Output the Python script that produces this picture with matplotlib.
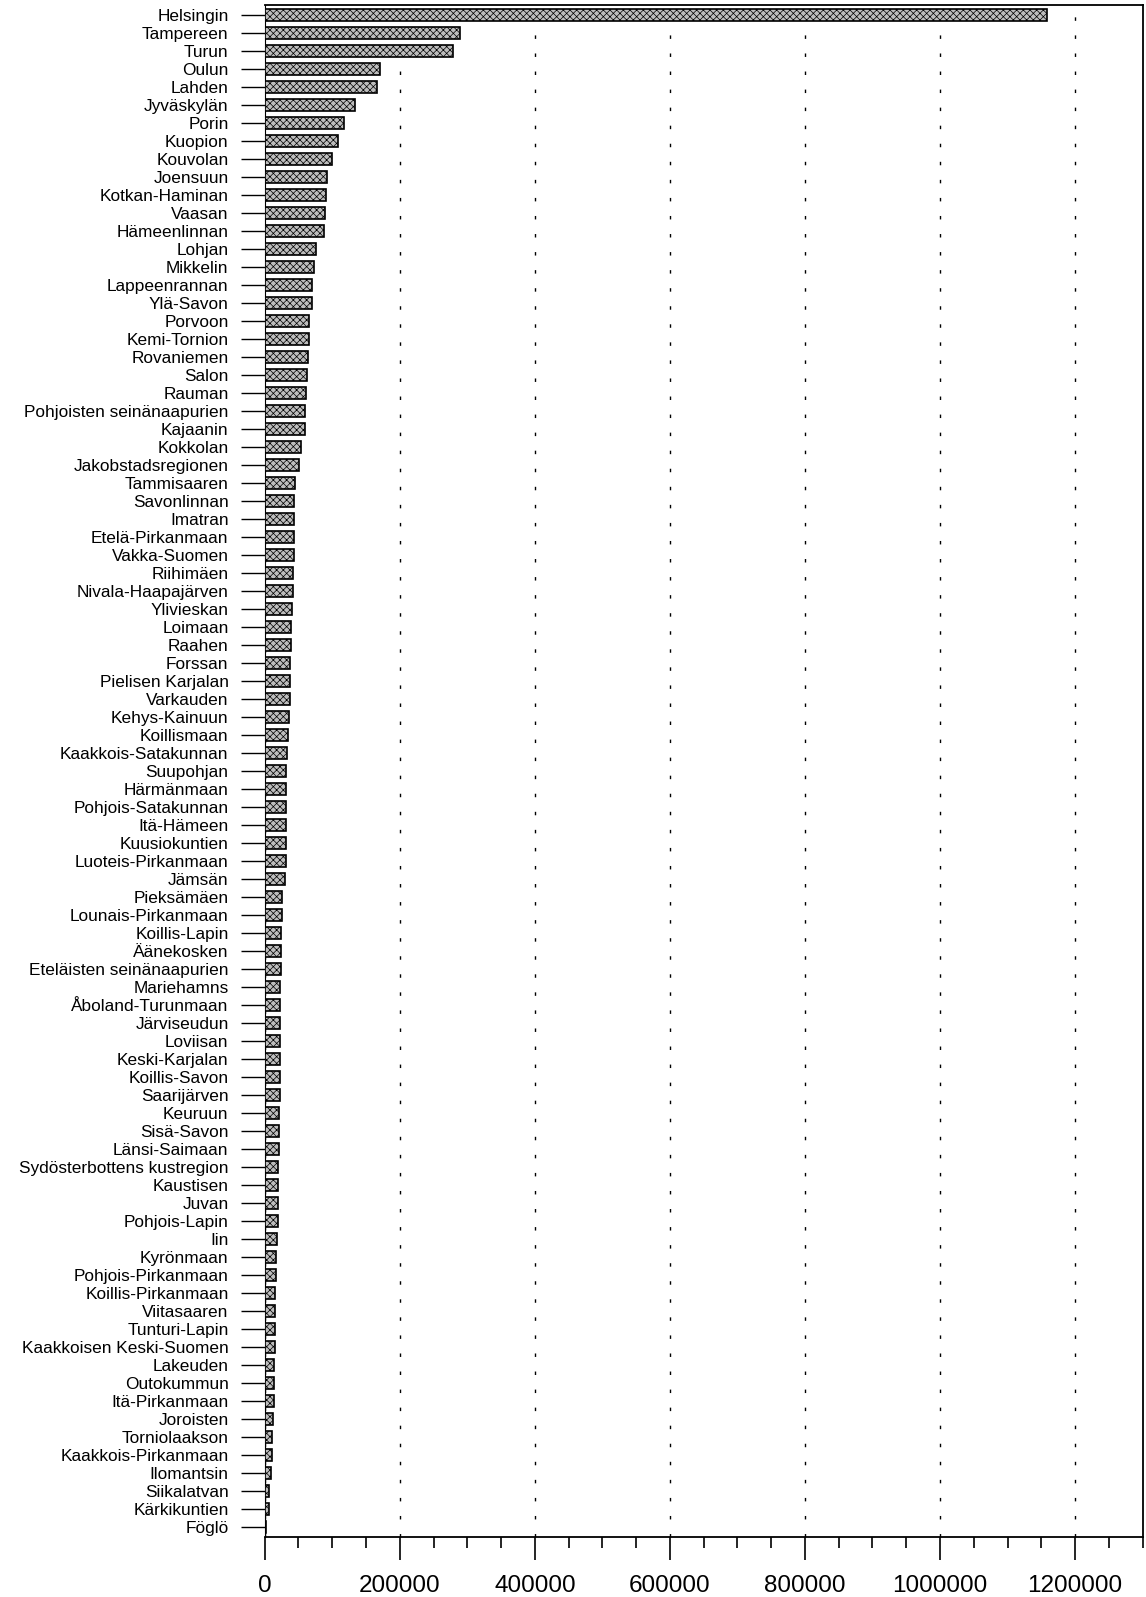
import numpy as np
import matplotlib
matplotlib.use('Agg')
import matplotlib.pyplot as plt
from matplotlib.ticker import MultipleLocator

plt.rcParams['font.family'] = ['Liberation Sans', 'DejaVu Sans']
plt.rcParams['hatch.linewidth'] = 0.5

# seutukunnat (ylhäältä alas)
regions = [
    "Helsingin", "Tampereen", "Turun", "Oulun", "Lahden", "Jyväskylän", "Porin",
    "Kuopion", "Kouvolan", "Joensuun", "Kotkan-Haminan", "Vaasan", "Hämeenlinnan",
    "Lohjan", "Mikkelin", "Lappeenrannan", "Ylä-Savon", "Porvoon", "Kemi-Tornion",
    "Rovaniemen", "Salon", "Rauman", "Pohjoisten seinänaapurien", "Kajaanin",
    "Kokkolan", "Jakobstadsregionen", "Tammisaaren", "Savonlinnan", "Imatran",
    "Etelä-Pirkanmaan", "Vakka-Suomen", "Riihimäen", "Nivala-Haapajärven",
    "Ylivieskan", "Loimaan", "Raahen", "Forssan", "Pielisen Karjalan", "Varkauden",
    "Kehys-Kainuun", "Koillismaan", "Kaakkois-Satakunnan", "Suupohjan",
    "Härmänmaan", "Pohjois-Satakunnan", "Itä-Hämeen", "Kuusiokuntien",
    "Luoteis-Pirkanmaan", "Jämsän", "Pieksämäen", "Lounais-Pirkanmaan",
    "Koillis-Lapin", "Äänekosken", "Eteläisten seinänaapurien", "Mariehamns",
    "Åboland-Turunmaan", "Järviseudun", "Loviisan", "Keski-Karjalan",
    "Koillis-Savon", "Saarijärven", "Keuruun", "Sisä-Savon", "Länsi-Saimaan",
    "Sydösterbottens kustregion", "Kaustisen", "Juvan", "Pohjois-Lapin", "Iin",
    "Kyrönmaan", "Pohjois-Pirkanmaan", "Koillis-Pirkanmaan", "Viitasaaren",
    "Tunturi-Lapin", "Kaakkoisen Keski-Suomen", "Lakeuden", "Outokummun",
    "Itä-Pirkanmaan", "Joroisten", "Torniolaakson", "Kaakkois-Pirkanmaan",
    "Ilomantsin", "Siikalatvan", "Kärkikuntien", "Föglö",
]

values = [
    1158000, 289000, 279000, 170000, 167000, 133000, 118000,
    108000, 100000, 92500, 91000, 89500, 88500,
    76000, 72300, 70000, 70000, 66000, 65000,
    63500, 62500, 61000, 59500, 59000,
    54000, 50600, 44700, 43300, 43300,
    43000, 42800, 42000, 42000,
    40700, 38400, 38400, 37400, 37000, 37000,
    36400, 35000, 33000, 31500,
    31000, 31000, 31400, 31000,
    31000, 30000, 25600, 25600,
    24100, 24100, 24000, 23100,
    23000, 23000, 23000, 22100,
    22000, 22500, 21600, 21500, 20600,
    20100, 20000, 20000, 19700, 18200,
    16700, 16500, 15700, 14700,
    15000, 15000, 14200, 14000,
    13300, 12300, 10300, 10300,
    9800, 6400, 6000, 1500,
]

xticks = [0, 200000, 400000, 600000, 800000, 1000000, 1200000]

fig = plt.figure(figsize=(11.46, 15.97), dpi=100)
ax = fig.add_axes([0.231, 0.0376, 0.766, 0.9594])

pos = np.arange(len(regions))
ax.barh(pos, values, height=0.68, color='#bdbdbd', edgecolor='black',
        linewidth=1.2, hatch='xxxxx', zorder=3)

ax.set_ylim(len(regions) - 0.445, -0.555)
ax.set_xlim(0, 1300000)

ax.set_yticks(pos)
ax.set_yticklabels(regions)
ax.set_xticks(xticks)
ax.set_xticklabels([str(t) for t in xticks])
ax.xaxis.set_minor_locator(MultipleLocator(50000))

ax.tick_params(axis='y', direction='out', length=17, width=1, pad=9,
               labelsize=12.4, color='black')
ax.tick_params(axis='x', which='major', direction='out', length=16.5, width=1.2,
               pad=11, labelsize=17.5)
ax.tick_params(axis='x', which='minor', direction='out', length=8, width=1.2)

ax.grid(axis='x', which='major', color='black', linewidth=1.0,
        linestyle=(0, (2.5, 10.5)))
ax.set_axisbelow(True)

for side in ['top', 'right', 'bottom']:
    ax.spines[side].set_linewidth(1.3)
ax.spines['left'].set_linewidth(0.8)

fig.savefig('out.png', dpi=100)
